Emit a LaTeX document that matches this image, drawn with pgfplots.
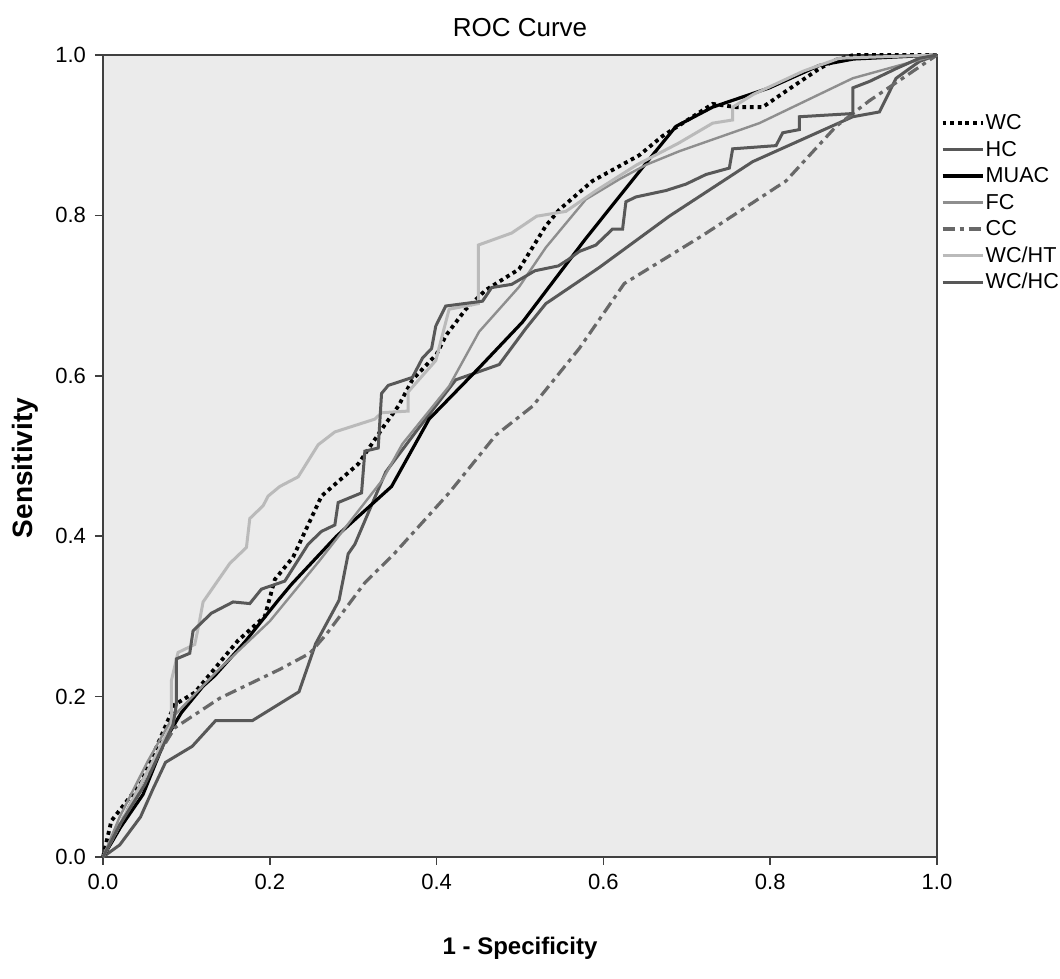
\documentclass[border=0pt]{standalone}
\usepackage{fontspec}
\setmainfont{Liberation Sans}
\usepackage{pgfplots}
\pgfplotsset{compat=1.18}

\definecolor{bggray}{HTML}{EBEBEB}
\definecolor{framegray}{HTML}{404040}
\definecolor{darkline}{HTML}{585858}
\definecolor{ccline}{HTML}{686868}
\definecolor{fcline}{HTML}{8E8E8E}
\definecolor{htline}{HTML}{BABABA}

\begin{document}
\begin{tikzpicture}
% page frame: 1px = 0.5pt of the 1060x979 reference
\path[use as bounding box] (-51.5pt,-61pt) rectangle (478.5pt,428.5pt);
\begin{axis}[
    at={(0pt,0pt)}, anchor=south west,
    scale only axis,
    width=417pt, height=401pt,
    xmin=0, xmax=1, ymin=0, ymax=1,
    xtick={0,0.2,...,1}, ytick={0,0.2,...,1},
    xtick pos=bottom, ytick pos=left,
    tick align=outside,
    major tick length=4pt,
    every tick/.style={framegray, line width=0.8pt},
    axis line style={framegray, line width=1pt},
    axis background/.style={fill=bggray},
    /pgf/number format/.cd, fixed, fixed zerofill, precision=1, assume math mode=true,
    /pgfplots/.cd,
    tick label style={font=\fontsize{11}{13}\selectfont},
    xticklabel style={yshift=-1pt},
    yticklabel style={xshift=-1pt},
    xlabel={\bfseries 1 - Specificity},
    ylabel={\bfseries Sensitivity},
    xlabel style={font=\fontsize{12}{14}\selectfont, at={(axis description cs:0.5,0)}, yshift=-45.5pt, anchor=center},
    ylabel style={font=\fontsize{14}{16}\selectfont, at={(axis description cs:0,0.5)}, yshift=39pt, xshift=-6pt, anchor=center},
    legend style={at={(axis description cs:1.004,0.929)}, anchor=north west,
        draw=none, fill=none, inner sep=0pt, font=\fontsize{10.8}{12}\selectfont,
        row sep=2.55pt,
        nodes={inner sep=0.6pt, text height=8pt, text depth=1.5pt}},
    legend cell align=left,
    legend image code/.code={\draw[#1] (0pt,0pt) -- (20pt,0pt);},
    clip=false,
]
% WC
\addplot[black, line width=1.9pt, dash pattern=on 1.9pt off 1.9pt] coordinates {
(0,0) (0.01,0.045) (0.046,0.093) (0.086,0.19) (0.11,0.205) (0.13,0.23)
(0.162,0.27) (0.194,0.30) (0.206,0.346) (0.228,0.374) (0.262,0.45) (0.306,0.49)
(0.338,0.539) (0.354,0.562) (0.371,0.595) (0.40,0.627) (0.411,0.65) (0.435,0.683)
(0.459,0.707) (0.499,0.733) (0.531,0.787) (0.547,0.807) (0.587,0.843) (0.643,0.875)
(0.671,0.899) (0.731,0.939) (0.759,0.935) (0.791,0.935) (0.819,0.955) (0.859,0.983)
(0.879,0.994) (0.9,1) (1,1)
};
\addlegendentry{WC}
% HC
\addplot[darkline, line width=1.5pt] coordinates {
(0,0) (0.02,0.015) (0.045,0.05) (0.06,0.085) (0.075,0.118) (0.107,0.138)
(0.135,0.17) (0.179,0.17) (0.235,0.206) (0.255,0.266) (0.283,0.32) (0.294,0.378)
(0.302,0.39) (0.339,0.48) (0.375,0.53) (0.423,0.595) (0.475,0.614) (0.507,0.659)
(0.531,0.69) (0.595,0.735) (0.679,0.799) (0.779,0.867) (0.899,0.923) (0.931,0.929)
(0.951,0.971) (0.979,0.992) (1,1)
};
\addlegendentry{HC}
% MUAC
\addplot[black, line width=1.6pt] coordinates {
(0,0) (0.012,0.021) (0.021,0.037) (0.048,0.078) (0.074,0.145) (0.094,0.18)
(0.12,0.213) (0.134,0.226) (0.17,0.268) (0.21,0.32) (0.226,0.34) (0.28,0.40)
(0.346,0.462) (0.391,0.546) (0.451,0.61) (0.503,0.667) (0.578,0.77) (0.651,0.865)
(0.687,0.911) (0.731,0.935) (0.799,0.959) (0.859,0.987) (0.9,0.995) (1,1)
};
\addlegendentry{MUAC}
% FC
\addplot[fcline, line width=1.2pt] coordinates {
(0,0) (0.02,0.05) (0.054,0.12) (0.084,0.175) (0.14,0.235) (0.2,0.294)
(0.26,0.37) (0.335,0.47) (0.359,0.515) (0.415,0.587) (0.451,0.655) (0.499,0.711)
(0.531,0.76) (0.579,0.82) (0.619,0.845) (0.651,0.863) (0.691,0.88) (0.787,0.915)
(0.899,0.971) (1,1)
};
\addlegendentry{FC}
% CC
\addplot[ccline, line width=1.6pt, dash pattern=on 6pt off 2.5pt on 2pt off 2.5pt] coordinates {
(0,0) (0.02,0.04) (0.05,0.10) (0.086,0.161) (0.14,0.198) (0.212,0.234)
(0.248,0.254) (0.268,0.278) (0.314,0.342) (0.349,0.378) (0.415,0.454) (0.471,0.526)
(0.515,0.562) (0.571,0.634) (0.595,0.67) (0.625,0.715) (0.683,0.752) (0.719,0.775)
(0.819,0.843) (0.879,0.911) (0.919,0.943) (1,1)
};
\addlegendentry{CC}
% WC/HT
\addplot[htline, line width=1.5pt] coordinates {
(0,0) (0.01,0.02) (0.03,0.06) (0.05,0.10) (0.07,0.14) (0.082,0.165)
(0.082,0.22) (0.09,0.255) (0.11,0.265) (0.115,0.29) (0.12,0.318) (0.144,0.354)
(0.152,0.366) (0.172,0.386) (0.176,0.422) (0.192,0.438) (0.198,0.45) (0.212,0.462)
(0.234,0.474) (0.258,0.514) (0.278,0.53) (0.326,0.546) (0.334,0.554) (0.366,0.556)
(0.366,0.58) (0.399,0.619) (0.415,0.683) (0.45,0.69) (0.45,0.763) (0.49,0.778)
(0.52,0.799) (0.555,0.805) (0.59,0.83) (0.64,0.863) (0.69,0.89) (0.731,0.915)
(0.755,0.919) (0.755,0.935) (0.78,0.951) (0.84,0.98) (0.883,0.996) (1,1)
};
\addlegendentry{WC/HT}
% WC/HC
\addplot[darkline, line width=1.5pt] coordinates {
(0,0) (0.02,0.04) (0.05,0.09) (0.084,0.165) (0.088,0.19) (0.088,0.247)
(0.104,0.254) (0.108,0.282) (0.13,0.304) (0.156,0.318) (0.176,0.316) (0.19,0.334)
(0.218,0.344) (0.246,0.39) (0.262,0.406) (0.278,0.414) (0.282,0.442) (0.31,0.454)
(0.314,0.506) (0.33,0.51) (0.334,0.578) (0.342,0.588) (0.371,0.598) (0.383,0.622)
(0.394,0.634) (0.399,0.662) (0.411,0.687) (0.455,0.693) (0.466,0.71) (0.49,0.714)
(0.518,0.731) (0.546,0.737) (0.558,0.745) (0.571,0.755) (0.591,0.763) (0.611,0.783)
(0.623,0.783) (0.627,0.817) (0.639,0.823) (0.675,0.831) (0.699,0.839) (0.723,0.851)
(0.751,0.859) (0.755,0.883) (0.807,0.887) (0.815,0.903) (0.835,0.907) (0.835,0.923)
(0.899,0.927) (0.899,0.959) (0.919,0.967) (0.951,0.983) (0.979,0.996) (1,1)
};
\addlegendentry{WC/HC}
\node[font=\fontsize{13}{15}\selectfont, anchor=center] at (axis description cs:0.5,1) [yshift=13.5pt] {ROC Curve};
\end{axis}
\end{tikzpicture}
\end{document}
